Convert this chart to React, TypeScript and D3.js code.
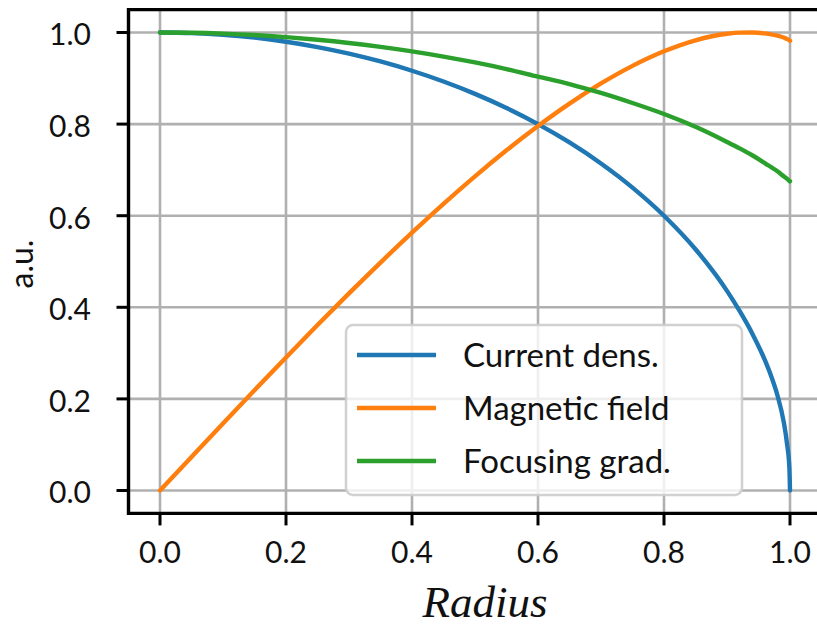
import { useMemo } from 'react'
import * as d3 from 'd3'

// radius samples (denser near the edge where the current density drops)
const radius = [
  0, 0.05, 0.1, 0.15, 0.2, 0.25, 0.3, 0.35, 0.4, 0.45, 0.5, 0.55, 0.6, 0.65,
  0.7, 0.75, 0.8, 0.85, 0.9, 0.92, 0.94, 0.96, 0.97, 0.98, 0.99, 0.995, 0.999, 1.0,
]

const currentDens = [
  1, 0.9987, 0.995, 0.9887, 0.9798, 0.9682, 0.9539, 0.9367, 0.9165, 0.893,
  0.866, 0.8352, 0.8, 0.7599, 0.7141, 0.6614, 0.6, 0.5268, 0.4359, 0.392,
  0.343, 0.285, 0.25, 0.208, 0.15, 0.105, 0.05, 0,
]

const magneticField = [
  0, 0.0733, 0.1464, 0.2189, 0.2906, 0.3612, 0.4303, 0.4977, 0.563, 0.6259,
  0.686, 0.7428, 0.7959, 0.8448, 0.8888, 0.9272, 0.959, 0.983, 0.9973, 0.9997,
  1.0, 0.998, 0.996, 0.993, 0.989, 0.986, 0.983, 0.982,
]

const focusingGrad = [
  1, 0.9994, 0.9975, 0.9944, 0.9899, 0.9842, 0.9772, 0.9687, 0.9589, 0.9475,
  0.9346, 0.9201, 0.9037, 0.8875, 0.868, 0.846, 0.822, 0.794, 0.761, 0.747,
  0.732, 0.715, 0.706, 0.697, 0.686, 0.681, 0.676, 0.675,
]

const seriesNames = ['Current dens.', 'Magnetic field', 'Focusing grad.']
const seriesColors = ['#1f77b4', '#ff7f0e', '#2ca02c']
const xTicks = [0, 0.2, 0.4, 0.6, 0.8, 1.0]
const yTicks = [0, 0.2, 0.4, 0.6, 0.8, 1.0]

const W = 817
const H = 627
const box = { left: 128.5, top: 9.6, right: 821.5, bottom: 513.4 }
const tickFont = 'Lato, "DejaVu Sans", sans-serif'

export default function App() {
  const x = d3.scaleLinear().domain([-0.05, 1.05]).range([box.left, box.right])
  const y = d3.scaleLinear().domain([-0.05, 1.05]).range([box.bottom, box.top])

  const paths = useMemo(() => {
    const line = d3
      .line<number>()
      .x((_, i) => x(radius[i]))
      .y(d => y(d))
      .curve(d3.curveMonotoneX)
    return [currentDens, magneticField, focusingGrad].map(s => line(s) || '')
  }, [])

  const legendX = 346
  const legendY = 325
  const rowGap = 53

  return (
    <svg
      width={W}
      height={H}
      style={{ position: 'absolute', left: 0, top: 0, background: '#fff' }}
    >
      <defs>
        <clipPath id="plot">
          <rect x={box.left} y={box.top} width={box.right - box.left} height={box.bottom - box.top} />
        </clipPath>
      </defs>

      {/* grid */}
      <g stroke="#b0b0b0" strokeWidth={2.6}>
        {xTicks.map(t => (
          <line key={'gx' + t} x1={x(t)} x2={x(t)} y1={box.top} y2={box.bottom} />
        ))}
        {yTicks.map(t => (
          <line key={'gy' + t} x1={box.left} x2={box.right} y1={y(t)} y2={y(t)} />
        ))}
      </g>

      {/* curves */}
      <g clipPath="url(#plot)" fill="none" strokeWidth={4.4} strokeLinecap="round" strokeLinejoin="round">
        {paths.map((d, i) => (
          <path key={seriesNames[i]} d={d} stroke={seriesColors[i]} />
        ))}
      </g>

      {/* legend */}
      <rect
        x={legendX}
        y={legendY}
        width={396}
        height={170}
        rx={7}
        fill="#fff"
        fillOpacity={0.8}
        stroke="#cccccc"
        strokeOpacity={0.9}
        strokeWidth={2.5}
      />
      {seriesNames.map((name, i) => (
        <g key={name} transform={`translate(0,${legendY + 30 + i * rowGap})`}>
          <line x1={357} x2={436} y1={0} y2={0} stroke={seriesColors[i]} strokeWidth={4.4} />
          <text x={463} y={0} dy="0.36em" fontFamily={tickFont} fontSize={33} fill="#111">
            {name}
          </text>
        </g>
      ))}

      {/* spines */}
      <g stroke="#000" strokeWidth={3.4} fill="none">
        <line x1={box.left} x2={box.left} y1={box.top - 1.7} y2={box.bottom + 1.7} />
        <line x1={box.left} x2={box.right} y1={box.top} y2={box.top} />
        <line x1={box.left} x2={box.right} y1={box.bottom} y2={box.bottom} />
        <line x1={box.right} x2={box.right} y1={box.top} y2={box.bottom} />
      </g>

      {/* x ticks */}
      <g>
        {xTicks.map(t => (
          <g key={'xt' + t}>
            <line x1={x(t)} x2={x(t)} y1={box.bottom} y2={box.bottom + 12} stroke="#000" strokeWidth={3} />
            <text x={x(t)} y={563} textAnchor="middle" fontFamily={tickFont} fontSize={30} fill="#111">
              {t.toFixed(1)}
            </text>
          </g>
        ))}
      </g>

      {/* y ticks */}
      <g>
        {yTicks.map(t => (
          <g key={'yt' + t}>
            <line x1={box.left - 12} x2={box.left} y1={y(t)} y2={y(t)} stroke="#000" strokeWidth={3} />
            <text x={91} y={y(t) + 2} dy="0.36em" textAnchor="end" fontFamily={tickFont} fontSize={30} fill="#111">
              {t.toFixed(1)}
            </text>
          </g>
        ))}
      </g>

      {/* axis labels */}
      <text
        x={485}
        y={617}
        textAnchor="middle"
        fontFamily='"Liberation Serif", "Times New Roman", serif'
        fontStyle="italic"
        fontSize={45}
        fill="#111"
      >
        Radius
      </text>
      <text
        transform="translate(33,264) rotate(-90)"
        textAnchor="middle"
        fontFamily={tickFont}
        fontSize={32}
        fill="#111"
      >
        a.u.
      </text>
    </svg>
  )
}
